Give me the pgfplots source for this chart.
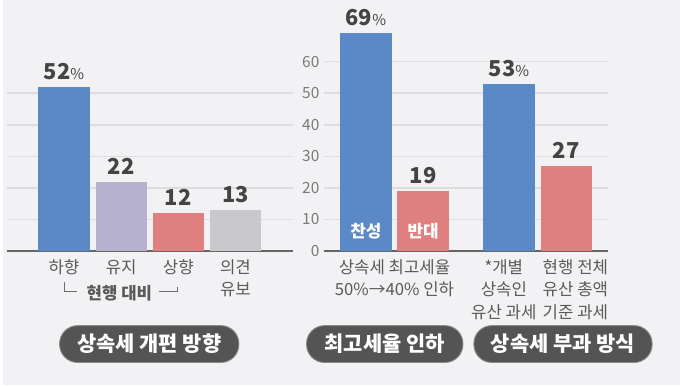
\documentclass[border=0pt]{standalone}
\usepackage{fontspec}
\setmainfont{Noto Sans CJK KR}
\usepackage{pgfplots}
\pgfplotsset{compat=1.18}
\definecolor{bgc}{HTML}{F2F2F4}
\definecolor{cblue}{HTML}{5B88C6}
\definecolor{clav}{HTML}{B5B1CE}
\definecolor{cred}{HTML}{E07F7F}
\definecolor{cgray}{HTML}{C9C9CB}
\definecolor{gridc}{HTML}{DDDDE0}
\definecolor{axisc}{HTML}{666666}
\definecolor{labc}{HTML}{5A5A5A}
\definecolor{valc}{HTML}{444444}
\definecolor{tickc}{HTML}{7A7A7A}
\definecolor{pillc}{HTML}{545454}
\definecolor{pillb}{HTML}{8A8A8A}
\newcommand{\valfont}{\fontsize{22}{24}\selectfont\bfseries}
\newcommand{\pct}{{\fontsize{15}{16}\mdseries\selectfont\%}}
\pgfplotsset{
  panel/.style={
    scale only axis, height=221.7pt, ymin=0, ymax=70, enlargelimits=false,
    clip=false, axis x line*=bottom, axis y line*=left,
    x axis line style={draw=axisc, line width=2pt, -},
    y axis line style={draw=none},
    major tick length=0pt,
    ymajorgrids, grid style={gridc, line width=1.5pt},
    xticklabel style={align=center, font=\fontsize{16.8}{22.5}\selectfont, text=labc, anchor=north, inner sep=0pt, yshift=-8.5pt},
    /pgf/number format/assume math mode=true,
  },
  b/.style={ybar, bar shift=0pt, bar width=51.5pt, draw=none,
    nodes near coords style={anchor=south, inner sep=0pt, yshift=7pt, text=valc, font=\valfont}},
}
\begin{document}
\begin{tikzpicture}
\fill[bgc] (0pt,0pt) rectangle (680pt,387pt);
% left panel
\begin{axis}[panel, at={(4pt,135pt)}, anchor=south west, width=287pt,
  xmin=-1, xmax=4, ytick={10,20,30,40,50}, yticklabels={},
  xtick={0,1,2,3}, xticklabels={하향,유지,상향,{의견\\유보}}]
\addplot[b, fill=cblue, nodes near coords={52\pct}] coordinates {(0,52)};
\addplot[b, fill=clav, nodes near coords={22}] coordinates {(1,22)};
\addplot[b, fill=cred, nodes near coords={12}] coordinates {(2,12)};
\addplot[b, fill=cgray, nodes near coords={13}] coordinates {(3,13)};
\draw[pillb!80!black, line width=0.9pt] (axis cs:0.01,-9.8) -- (axis cs:0.01,-12.8) -- (axis cs:0.235,-12.8);
\draw[pillb!80!black, line width=0.9pt] (axis cs:1.666,-12.8) -- (axis cs:1.98,-12.8) -- (axis cs:1.98,-11.3);
\node[font=\fontsize{16.8}{18}\selectfont\bfseries, text=labc] at (axis cs:0.97,-13.3) {현행 대비};
\end{axis}
% right panel
\begin{axis}[panel, at={(322pt,135pt)}, anchor=south west, width=286pt,
  xmin=-0.74, xmax=4.235, ytick={0,10,...,60},
  yticklabel style={font=\fontsize{15.5}{16}\selectfont, text=tickc, inner sep=0pt, xshift=-4pt},
  xtick={0.5,2.41,3.66},
  xticklabels={{상속세 최고세율\\50\%→40\% 인하},{*개별\\상속인\\유산 과세},{현행 전체\\유산 총액\\기준 과세}}]
\addplot[b, fill=cblue, nodes near coords={69\pct}] coordinates {(0,69)};
\addplot[b, fill=cred, nodes near coords={19}] coordinates {(1,19)};
\addplot[b, fill=cblue, nodes near coords={53\pct}] coordinates {(2.5,53)};
\addplot[b, fill=cred, nodes near coords={27}] coordinates {(3.5,27)};
\node[font=\fontsize{17}{18}\selectfont\bfseries, text=white] at (axis cs:0,6.2) {찬성};
\node[font=\fontsize{17}{18}\selectfont\bfseries, text=white] at (axis cs:1,6.2) {반대};
\end{axis}
% pills
\tikzset{pill/.style={fill=pillc, draw=pillb, line width=0.9pt, rounded corners=18pt}}
\draw[pill] (57pt,23pt) rectangle (237pt,60pt);
\draw[pill] (305pt,23pt) rectangle (462pt,60pt);
\draw[pill] (473pt,23pt) rectangle (652pt,60pt);
\tikzset{pt/.style={text=white, font=\fontsize{21}{22}\selectfont\bfseries}}
\node[pt] at (147pt,41.5pt) {상속세 개편 방향};
\node[pt] at (383.5pt,41.5pt) {최고세율 인하};
\node[pt] at (562.5pt,41.5pt) {상속세 부과 방식};
\end{tikzpicture}
\end{document}
